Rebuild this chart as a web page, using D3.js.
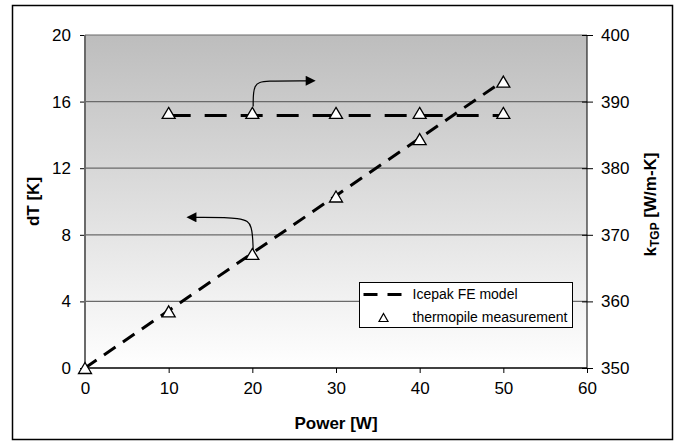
<!DOCTYPE html>
<html>
<head>
<meta charset="utf-8">
<script src="https://cdn.jsdelivr.net/npm/d3@7"></script>
<style>
  body { margin: 0; background: #fff; }
  svg { font-family: "Liberation Sans", Arial, sans-serif; }
</style>
</head>
<body>
<div id="chart"></div>
<script>
// data
var power = [0, 10, 20, 30, 40, 50];
var modelDT = [0, 3.45, 6.9, 10.35, 13.8, 17.25];
var measDT = [0, 3.4, 6.85, 10.3, 13.75, 17.2];
var kPower = [10, 20, 30, 40, 50];
var modelK = [387.9, 387.9, 387.9, 387.9, 387.9];
var measK = [388.3, 388.3, 388.3, 388.3, 388.3];
var xTicks = [0, 10, 20, 30, 40, 50, 60];
var dtTicks = [0, 4, 8, 12, 16, 20];
var kTicks = [350, 360, 370, 380, 390, 400];
var legendLabels = ["Icepak FE model", "thermopile measurement"];
// annotation arrows, in (power, dT) units
var arrowRight = [[20.1, 15.7], [20.1, 17.1], [21.5, 17.25], [26.5, 17.25]];
var arrowLeft = [[20.1, 7.1], [20.0, 8.6], [19.0, 9.05], [13.2, 9.05]];

var W = 679, H = 442;
var margin = {top: 35, right: 92, bottom: 74, left: 85};
var width = W - margin.left - margin.right,
    height = H - margin.top - margin.bottom;

var svg = d3.select("#chart").append("svg")
    .attr("width", W).attr("height", H);

// outer frame
svg.append("rect")
    .attr("x", 12.5).attr("y", 5.5)
    .attr("width", 660).attr("height", 434)
    .attr("fill", "#fff").attr("stroke", "#000").attr("stroke-width", 1.5);

var defs = svg.append("defs");
var grad = defs.append("linearGradient").attr("id", "bg")
    .attr("x1", 0).attr("y1", 0).attr("x2", 0).attr("y2", 1);
grad.append("stop").attr("offset", "0%").attr("stop-color", "#bdbdbd");
grad.append("stop").attr("offset", "100%").attr("stop-color", "#ffffff");

defs.append("marker").attr("id", "head")
    .attr("viewBox", "0 0 10 10").attr("refX", 1).attr("refY", 5)
    .attr("markerWidth", 12).attr("markerHeight", 10)
    .attr("markerUnits", "userSpaceOnUse")
    .attr("orient", "auto")
    .append("path").attr("d", "M0,0 L10,5 L0,10 Z").attr("fill", "#000");

var g = svg.append("g")
    .attr("transform", "translate(" + margin.left + "," + margin.top + ")");

var x = d3.scaleLinear().domain([0, 60]).range([0, width]);
var yL = d3.scaleLinear().domain([0, 20]).range([height, 0]);
var yR = d3.scaleLinear().domain([350, 400]).range([height, 0]);

g.append("rect").attr("width", width).attr("height", height).attr("fill", "url(#bg)");

// gridlines
g.selectAll(".grid").data(dtTicks.filter(function(d) { return d > 0; })).enter()
    .append("line")
    .attr("x1", 0).attr("x2", width)
    .attr("y1", function(d) { return yL(d); }).attr("y2", function(d) { return yL(d); })
    .attr("stroke", "#6a6a6a").attr("stroke-width", 1.2);

// axes
var xAxis = g.append("g").attr("transform", "translate(0," + height + ")")
    .call(d3.axisBottom(x).tickValues(xTicks).tickSize(5).tickPadding(9));
var lAxis = g.append("g")
    .call(d3.axisLeft(yL).tickValues(dtTicks).tickSize(5).tickPadding(9));
var rAxis = g.append("g").attr("transform", "translate(" + width + ",0)")
    .call(d3.axisRight(yR).tickValues(kTicks).tickSize(6).tickPadding(8));

[xAxis, lAxis, rAxis].forEach(function(a) {
    a.selectAll("text").attr("font-size", 17).attr("fill", "#000")
        .attr("font-family", "Liberation Sans, Arial, sans-serif");
    a.selectAll("line").attr("stroke", "#000");
    a.select(".domain").remove();
});
rAxis.selectAll(".tick line").attr("x1", -5);

g.append("line").attr("x1", 0).attr("x2", 0).attr("y1", 0).attr("y2", height)
    .attr("stroke", "#6a6a6a").attr("stroke-width", 2);
g.append("line").attr("x1", width).attr("x2", width).attr("y1", 0).attr("y2", height)
    .attr("stroke", "#000").attr("stroke-width", 1);
g.append("line").attr("x1", 0).attr("x2", width).attr("y1", height).attr("y2", height)
    .attr("stroke", "#000").attr("stroke-width", 1.5);

// series
var lineL = d3.line().x(function(d) { return x(d[0]); }).y(function(d) { return yL(d[1]); });
var lineR = d3.line().x(function(d) { return x(d[0]); }).y(function(d) { return yR(d[1]); });

g.append("path").attr("d", lineR(d3.zip(kPower, modelK)))
    .attr("fill", "none").attr("stroke", "#000").attr("stroke-width", 3)
    .attr("stroke-dasharray", "22,14");
g.append("path").attr("d", lineL(d3.zip(power, modelDT)))
    .attr("fill", "none").attr("stroke", "#000").attr("stroke-width", 3)
    .attr("stroke-dasharray", "14,9");

var tri = "M0,-5.5 L6.5,5.5 L-6.5,5.5 Z";
g.selectAll(".mL").data(d3.zip(power, measDT)).enter().append("path")
    .attr("d", tri)
    .attr("transform", function(d) { return "translate(" + x(d[0]) + "," + yL(d[1]) + ")"; })
    .attr("fill", "#fff").attr("stroke", "#000").attr("stroke-width", 1.3);
g.selectAll(".mR").data(d3.zip(kPower, measK)).enter().append("path")
    .attr("d", tri)
    .attr("transform", function(d) { return "translate(" + x(d[0]) + "," + yR(d[1]) + ")"; })
    .attr("fill", "#fff").attr("stroke", "#000").attr("stroke-width", 1.3);

// annotation arrows
var curve = d3.line().curve(d3.curveBasis)
    .x(function(d) { return x(d[0]); }).y(function(d) { return yL(d[1]); });
[arrowRight, arrowLeft].forEach(function(a) {
    g.append("path").attr("d", curve(a))
        .attr("fill", "none").attr("stroke", "#000").attr("stroke-width", 1.2)
        .attr("marker-end", "url(#head)");
});

// legend
var lg = svg.append("g").attr("transform", "translate(359.5,282.5)");
lg.append("rect").attr("width", 213).attr("height", 45)
    .attr("fill", "#fff").attr("stroke", "#000").attr("stroke-width", 1);
lg.append("line").attr("x1", 4).attr("x2", 44).attr("y1", 12).attr("y2", 12)
    .attr("stroke", "#000").attr("stroke-width", 3).attr("stroke-dasharray", "14,10");
lg.append("path").attr("d", "M0,-4 L4.5,4 L-4.5,4 Z")
    .attr("transform", "translate(24,35)")
    .attr("fill", "#fff").attr("stroke", "#000").attr("stroke-width", 1.2);
lg.selectAll("text").data(legendLabels).enter().append("text")
    .attr("x", 53).attr("y", function(d, i) { return 16 + i * 23; })
    .attr("font-size", 14).text(function(d) { return d; });

// axis titles
svg.append("text")
    .attr("x", margin.left + width / 2).attr("y", 429)
    .attr("text-anchor", "middle").attr("font-size", 17).attr("font-weight", "bold")
    .text("Power [W]");
svg.append("text")
    .attr("transform", "translate(39," + (margin.top + height / 2) + ") rotate(-90)")
    .attr("text-anchor", "middle").attr("font-size", 17).attr("font-weight", "bold")
    .text("dT [K]");
var kt = svg.append("text")
    .attr("transform", "translate(656," + (margin.top + height / 2 + 3) + ") rotate(-90)")
    .attr("text-anchor", "middle").attr("font-size", 17).attr("font-weight", "bold");
kt.append("tspan").text("k");
kt.append("tspan").attr("font-size", 12).attr("dy", 3).text("TGP");
kt.append("tspan").attr("dy", -3).text(" [W/m-K]");
</script>
</body>
</html>
